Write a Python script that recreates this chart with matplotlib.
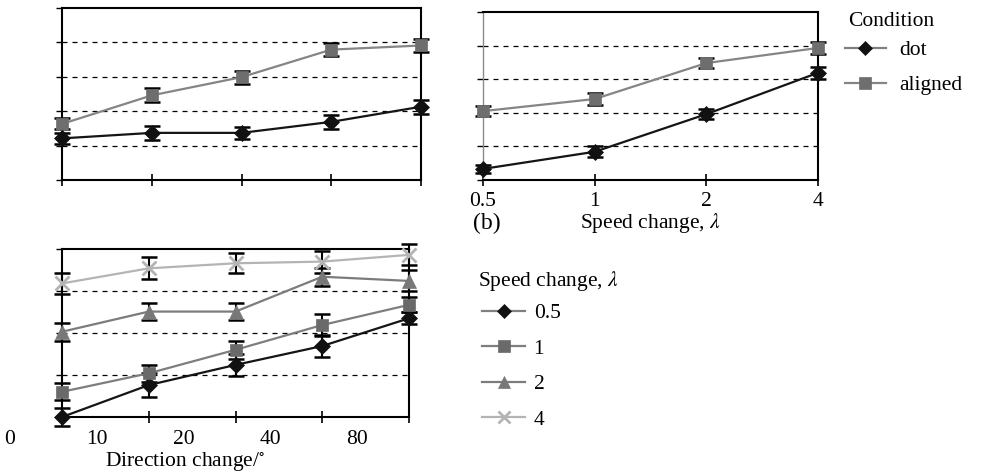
"""
Three-panel line chart with error bars: direction change / speed change
vs. some response, split by condition (dot vs aligned) and by speed change.
"""
import matplotlib as mpl
import matplotlib.pyplot as plt
from matplotlib.lines import Line2D
from matplotlib.transforms import ScaledTranslation

mpl.rcParams.update({
    "font.family": "serif",
    "font.serif": ["Liberation Serif", "DejaVu Serif"],
    "mathtext.fontset": "stix",
    "font.size": 15.5,
})

# --- data -------------------------------------------------------------------
# (a) top-left: five direction-change levels, two conditions
dir_dot = [1.21, 1.37, 1.37, 1.69, 2.13]
dir_dot_err = [0.15, 0.20, 0.18, 0.20, 0.20]
dir_aligned = [1.63, 2.46, 2.99, 3.79, 3.91]
dir_aligned_err = [0.16, 0.20, 0.19, 0.19, 0.19]

# (b) top-right: speed change levels, two conditions
speed_levels = ["0.5", "1", "2", "4"]
spd_dot = [0.33, 0.84, 1.96, 3.19]
spd_dot_err = [0.12, 0.17, 0.15, 0.18]
spd_aligned = [2.05, 2.41, 3.48, 3.93]
spd_aligned_err = [0.14, 0.17, 0.15, 0.18]

# (c) bottom: direction change x speed change
dir_labels = ["0", "10", "20", "40", "80"]
by_speed = {
    "0.5": ([0.00, 0.76, 1.24, 1.69, 2.35], [0.22, 0.29, 0.26, 0.26, 0.14]),
    "1": ([0.60, 1.04, 1.60, 2.19, 2.67], [0.20, 0.20, 0.21, 0.26, 0.18]),
    "2": ([2.03, 2.51, 2.51, 3.34, 3.24], [0.21, 0.21, 0.21, 0.21, 0.25]),
    "4": ([3.18, 3.54, 3.66, 3.70, 3.86], [0.24, 0.26, 0.24, 0.26, 0.25]),
}

# --- styles -----------------------------------------------------------------
STYLE = {
    "dot": dict(color="#151515", mfc="#111111", marker="D", ms=8),
    "aligned": dict(color="#858585", mfc="#6e6e6e", marker="s", ms=9),
    "0.5": dict(color="#151515", mfc="#111111", marker="D", ms=8),
    "1": dict(color="#7e7e7e", mfc="#6a6a6a", marker="s", ms=9),
    "2": dict(color="#7c7c7c", mfc="#787878", marker="^", ms=10),
    "4": dict(color="#b4b4b4", mfc="#b4b4b4", marker="x", ms=10),
}

W, H = 989, 476


def _rect(left, top, right, bottom):
    return [left / W, 1 - bottom / H, (right - left) / W, (bottom - top) / H]


def _series(ax, xs, ys, err, key):
    st = STYLE[key]
    ax.errorbar(xs, ys, yerr=err, fmt="none", ecolor="black", elinewidth=1.5,
                capsize=6, capthick=1.8, clip_on=False, zorder=3)
    ax.plot(xs, ys, color=st["color"], lw=1.6, zorder=4, clip_on=False)
    ax.plot(xs, ys, linestyle="none", marker=st["marker"], ms=st["ms"],
            mfc=st["mfc"], mec=st["mfc"], mew=2 if st["marker"] == "x" else 0.5,
            zorder=5, clip_on=False)


def _frame(ax, ntop, left_color="black"):
    ax.set_ylim(0, ntop)
    for y in range(1, ntop):
        ax.axhline(y, color="black", lw=0.9, ls=(0, (4, 4)), zorder=1)
    for s in ax.spines.values():
        s.set_linewidth(1.5)
        s.set_color("black")
    ax.spines["left"].set_color(left_color)
    ax.set_yticks(range(ntop + 1))
    ax.set_yticklabels([])
    ax.tick_params(axis="x", direction="inout", length=9, width=1.2)
    ax.tick_params(axis="y", direction="out", length=4, width=1.0)


fig = plt.figure(figsize=(W / 100, H / 100), dpi=100)

# (a)
ax1 = fig.add_axes(_rect(62, 8, 421, 180))
xs5 = list(range(len(dir_dot)))
_series(ax1, xs5, dir_aligned, dir_aligned_err, "aligned")
_series(ax1, xs5, dir_dot, dir_dot_err, "dot")
ax1.set_xlim(0, 4)
ax1.set_xticks(xs5)
ax1.set_xticklabels([])
_frame(ax1, 5)
ax1.spines["top"].set_linestyle((0, (3, 1)))

# (b)
ax2 = fig.add_axes(_rect(483, 12, 818, 180))
xs4 = list(range(len(speed_levels)))
_series(ax2, xs4, spd_aligned, spd_aligned_err, "aligned")
_series(ax2, xs4, spd_dot, spd_dot_err, "dot")
ax2.set_xlim(0, 3)
ax2.set_xticks(xs4)
ax2.set_xticklabels(speed_levels)
_frame(ax2, 5, left_color="#8a8a8a")
ax2.spines["left"].set_linewidth(1.0)
ax2.tick_params(axis="x", pad=4)
ax2.set_xlabel(r"Speed change, $\lambda$", labelpad=0)
fig.text(473 / W, 1 - 223 / H, "(b)", va="center", ha="left", fontsize=17)

# (c)
ax3 = fig.add_axes(_rect(62, 249, 409, 417))
for key, (ys, err) in by_speed.items():
    _series(ax3, xs5, ys, err, key)
ax3.set_xlim(0, 4)
ax3.set_xticks(xs5)
ax3.set_xticklabels(dir_labels)
_frame(ax3, 4)
ax3.tick_params(axis="x", pad=5)
shift = ScaledTranslation(-0.52, 0, fig.dpi_scale_trans)
for lbl in ax3.get_xticklabels():
    lbl.set_transform(lbl.get_transform() + shift)
fig.text(185 / W, 1 - 462 / H, r"Direction change/$^{\circ}$",
         ha="center", va="center")


def _handles(keys):
    out = []
    for k in keys:
        st = STYLE[k]
        out.append(Line2D([], [], color="#808080" if k in ("dot", "0.5") else st["color"],
                          lw=1.6, marker=st["marker"], ms=st["ms"] - 1,
                          mfc=st["mfc"], mec=st["mfc"],
                          mew=2 if st["marker"] == "x" else 0.5))
    return out


# legend titles are placed separately so the title gap can differ from row pitch
fig.text(848 / W, 1 - 21 / H, "Condition", ha="left", va="center")
fig.legend(_handles(["dot", "aligned"]), ["dot", "aligned"],
           loc="upper left", bbox_to_anchor=(845 / W, 1 - 40 / H),
           frameon=False, borderpad=0, borderaxespad=0, handlelength=1.9,
           handletextpad=0.6, labelspacing=0.70)

fig.text(478 / W, 1 - 281 / H, r"Speed change, $\lambda$", ha="left", va="center")
fig.legend(_handles(list(by_speed)), list(by_speed),
           loc="upper left", bbox_to_anchor=(482 / W, 1 - 303 / H),
           frameon=False, borderpad=0, borderaxespad=0, handlelength=2.0,
           handletextpad=0.4, labelspacing=0.72)

fig.savefig("out.png", dpi=100)
